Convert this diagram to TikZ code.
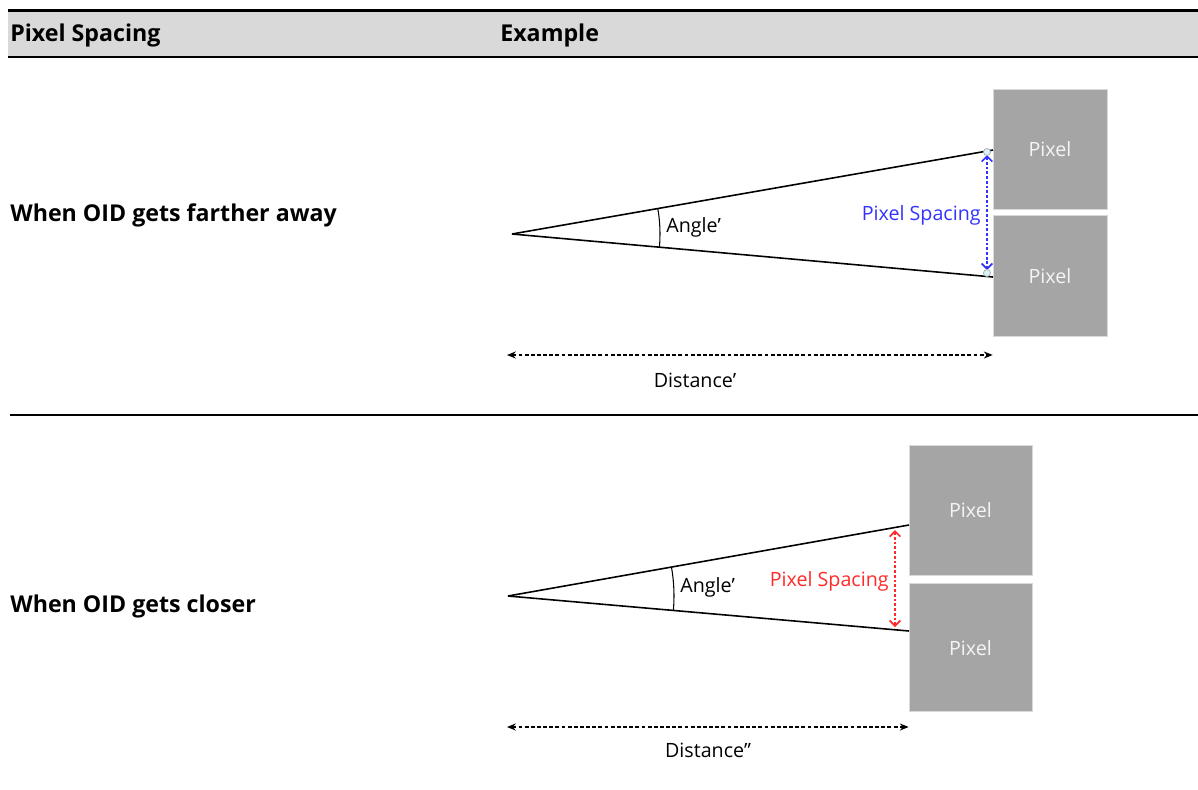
\documentclass[tikz,border=0pt]{standalone}
\usepackage{fontspec}
\setmainfont{Open Sans}
\usetikzlibrary{positioning,arrows.meta}
\definecolor{headgray}{HTML}{D9D9D9}
\definecolor{pixgray}{HTML}{A5A5A5}
\definecolor{psblue}{HTML}{3333FF}
\definecolor{psred}{HTML}{FF2A2A}

\begin{document}
\begin{tikzpicture}[
  x=0.02cm, y=-0.02cm,
  headtext/.style={anchor=west, inner sep=0pt, font=\bfseries\fontsize{13.2}{16}\selectfont},
  rowlabel/.style={anchor=west, inner sep=0pt, font=\bfseries\fontsize{13.2}{16}\selectfont},
  pixelbox/.style={draw=gray!30, fill=pixgray, text=white!92!gray, inner sep=0pt, font=\fontsize{11.2}{13}\selectfont},
  lbl/.style={inner sep=0pt, font=\fontsize{11.2}{13}\selectfont},
  ray/.style={line width=0.9pt},
  spacing/.style={dash pattern=on 1.6pt off 1.1pt, line width=1pt, {Straight Barb[length=3pt,width=6pt]}-{Straight Barb[length=3pt,width=6pt]}},
  dist/.style={dash pattern=on 2.2pt off 1.3pt, line width=0.8pt, {Stealth[length=5pt,width=4pt]}-{Stealth[length=5pt,width=4pt]}},
  handle/.style={circle, draw=gray!70, fill=cyan!15, inner sep=0pt, minimum size=4pt}
]
\useasboundingbox (0,0) rectangle (1198,789);

% header row
\fill[headgray] (8,11) rectangle (1198,57);
\draw[line width=1.7pt] (8,10.5) -- (1198,10.5);
\draw[line width=1.2pt] (8,57) -- (1198,57);
\draw[line width=1.2pt] (10,415) -- (1198,415);
\node[headtext] (colleft) at (10,35) {Pixel Spacing};
\node[headtext] (colright) at (500,35) {Example};

\node[rowlabel] (farther) at (10,215) {When OID gets farther away};
\node[rowlabel] (closer) at (10,606) {When OID gets closer};

% farther away
\node[pixelbox, minimum width=2.28cm, minimum height=2.4cm] (pixA) at (1050,149) {Pixel};
\node[pixelbox, minimum width=2.28cm, minimum height=2.42cm, below=0.12cm of pixA] (pixB) {Pixel};
\coordinate (apexA) at (512,234);
\coordinate (topA) at (993,150);
\coordinate (botA) at (993,277);
\draw[ray] (apexA) -- (topA);
\draw[ray] (apexA) -- (botA);
\draw[line width=0.6pt] (apexA) ++(-9.9:148) arc[start angle=-9.9, end angle=5.1, radius=148];
\node[lbl, anchor=west] (angleA) at (666,227) {Angle’};
\draw[spacing, psblue] (987,155) -- (987,270);
\node[handle] (hA1) at (987,152) {};
\node[handle] (hA2) at (987,273) {};
\node[lbl, anchor=east, text=psblue] (spaceA) at (981,215) {Pixel Spacing};
\coordinate (distA) at (507,355);
\draw[dist] (distA) -- (distA -| pixA.west);
\node[lbl] (distlblA) at (695,380) {Distance’};

% closer
\node[pixelbox, minimum width=2.46cm, minimum height=2.6cm] (pixC) at (970.5,510) {Pixel};
\node[pixelbox, minimum width=2.46cm, minimum height=2.56cm, below=0.16cm of pixC] (pixD) {Pixel};
\coordinate (apexB) at (508,596);
\coordinate (topB) at (909,525);
\coordinate (botB) at (909,631);
\draw[ray] (apexB) -- (topB);
\draw[ray] (apexB) -- (botB);
\draw[line width=0.6pt] (apexB) ++(-10:166) arc[start angle=-10, end angle=5, radius=166];
\node[lbl, anchor=west] (angleB) at (680,587) {Angle’};
\draw[spacing, psred] (895,530) -- (895,627);
\node[lbl, anchor=east, text=psred] (spaceB) at (889,581) {Pixel Spacing};
\coordinate (distB) at (507,727);
\draw[dist] (distB) -- (distB -| pixC.west);
\node[lbl] (distlblB) at (708,750) {Distance”};
\end{tikzpicture}
\end{document}
